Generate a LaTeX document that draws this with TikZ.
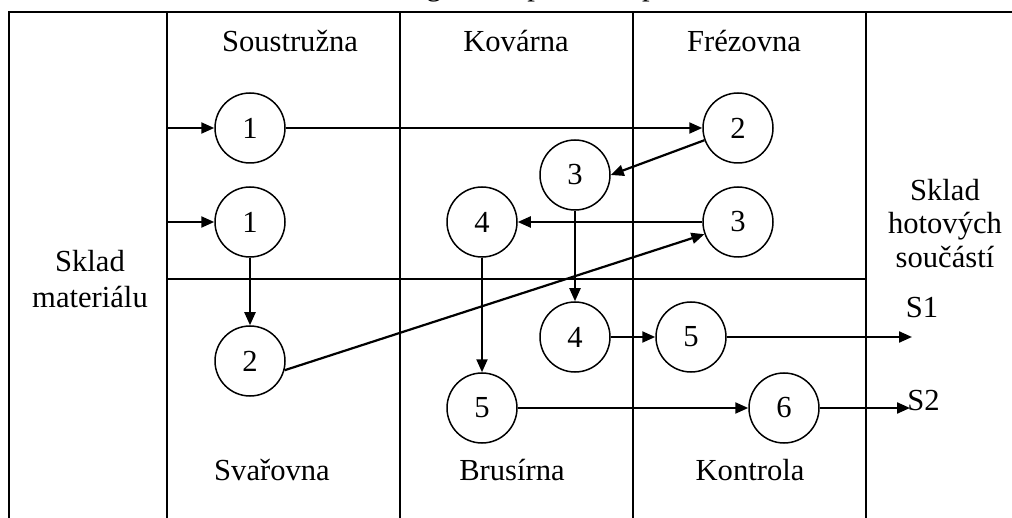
\documentclass[tikz,border=0pt]{standalone}
\usepackage{fontspec}
\setmainfont{Liberation Serif}
\usetikzlibrary{arrows.meta}
\begin{document}
\begin{tikzpicture}[x=0.5pt,y=-0.5pt,
  grid/.style={line width=0.75pt},
  op/.style={circle,draw,line width=0.75pt,minimum size=35pt,inner sep=0pt},
  flow/.style={line width=1.1pt,-{Triangle[length=6.5pt,width=5.5pt]}},
  lbl/.style={anchor=base,inner sep=0pt},
  font=\fontsize{15.3}{17.6}\selectfont]
\useasboundingbox (0,0) rectangle (1012,518);
% clipped caption
\node[lbl] (cap) at (497,-4) {Obr. 3 Technologické uspořádání pracoviště};
% grid
\draw[grid] (9,518) -- (9,12) -- (1012,12);
\draw[grid] (167,12) -- (167,518);
\draw[grid] (400,12) -- (400,518);
\draw[grid] (633,12) -- (633,518);
\draw[grid] (866,12) -- (866,518);
\draw[grid] (167,279) -- (866,279);
% labels
\node[lbl] (lsou) at (290,52) {Soustružna};
\node[lbl] (lkov) at (516,52) {Kovárna};
\node[lbl] (lfre) at (744,52) {Frézovna};
\node[lbl] (lsva) at (272,480) {Svařovna};
\node[lbl] (lbru) at (512,480) {Brusírna};
\node[lbl] (lkon) at (750,480) {Kontrola};
\node[lbl] (lsm1) at (90,272) {Sklad};
\node[lbl] (lsm2) at (90,307) {materiálu};
\node[lbl] (lsh1) at (945,201) {Sklad};
\node[lbl] (lsh2) at (945,234) {hotových};
\node[lbl] (lsh3) at (945,268) {součástí};
\node[lbl] (ls1) at (922,317) {S1};
\node[lbl,anchor=base west] (ls2) at (907,410) {S2};
% operations
\node[op] (A1) at (250,128) {1};
\node[op] (B2) at (738,128) {2};
\node[op] (C3) at (575,175) {3};
\node[op] (D1) at (250,222) {1};
\node[op] (E4) at (482,222) {4};
\node[op] (F3) at (738,222) {3};
\node[op] (G2) at (250,361) {2};
\node[op] (H4) at (575,337) {4};
\node[op] (I5) at (691,337) {5};
\node[op] (J5) at (482,408) {5};
\node[op] (K6) at (784,408) {6};
\coordinate (in1) at (167,128);
\coordinate (in2) at (167,222);
\coordinate (s1) at (912,337);
\coordinate (s2) at (910,408);
% flows
\draw[flow] (in1) -- (A1);
\draw[flow] (A1) -- (B2);
\draw[flow] (B2.200) -- (C3.east);
\draw[flow] (in2) -- (D1);
\draw[flow] (D1) -- (G2);
\draw[flow] (G2.-15) -- (F3.200);
\draw[flow] (F3) -- (E4);
\draw[flow] (C3) -- (H4);
\draw[flow] (E4) -- (J5);
\draw[flow] (H4) -- (I5);
\draw[flow] (J5) -- (K6);
\draw[flow] (I5) -- (s1);
\draw[flow] (K6) -- (s2);
\end{tikzpicture}
\end{document}
